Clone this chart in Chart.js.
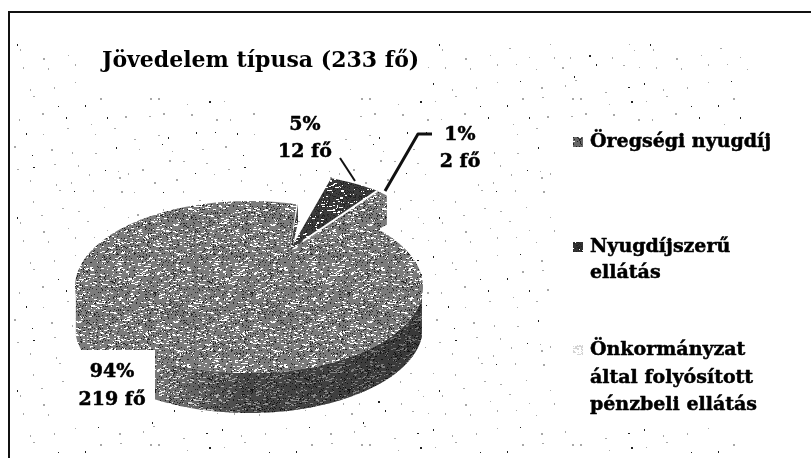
<!DOCTYPE html>
<html lang="hu">
<head>
<meta charset="UTF-8">
<title>Jövedelem típusa</title>
<script src="https://cdn.jsdelivr.net/npm/chart.js"></script>
<style>
  html, body { margin: 0; background: #fff; }
  canvas { display: block; }
</style>
</head>
<body>
<canvas id="pie" width="811" height="458"></canvas>
<script>
  const chartTitle = 'Jövedelem típusa (233 fő)';
  const categories = ['Öregségi nyugdíj', 'Nyugdíjszerű ellátás', 'Önkormányzat által folyósított pénzbeli ellátás'];
  const values = [219, 12, 2];
  const percentLabels = ['94%', '5%', '1%'];
  const countLabels = ['219 fő', '12 fő', '2 fő'];

  const FONT = "'DejaVu Serif', serif";

  // the ellipse of the pie top and the point where the slices meet
  const cx = 249, cy = 287, rx = 174, ry = 86, depth = 40;
  const apex = [290, 250];
  const wedgeMid = -58.4 * Math.PI / 180;
  const squeeze = 0.686;

  // small dithered tiles, the picture is a halftone scan
  function ditherTile(base, whiteRate, blackRate) {
    const c = document.createElement('canvas');
    c.width = c.height = 97;
    const g = c.getContext('2d');
    g.fillStyle = base;
    g.fillRect(0, 0, 97, 97);
    let seed = 12345;
    const next = () => (seed = (seed * 1103515245 + 12345) & 0x7fffffff) / 0x7fffffff;
    for (let y = 0; y < 97; y++) {
      for (let x = 0; x < 97; x++) {
        const r = next();
        if (r < whiteRate) {
          g.fillStyle = '#fff';
          g.fillRect(x, y, 1 + Math.floor(next() * 3), 1);
        } else if (r < whiteRate + blackRate) {
          g.fillStyle = '#222';
          g.fillRect(x, y, 1, 1);
        }
      }
    }
    return c;
  }

  // the faint rows of dots in the background
  function speckleTile() {
    const c = document.createElement('canvas');
    c.width = 211; c.height = 173;
    const g = c.getContext('2d');
    let seed = 777;
    const next = () => (seed = (seed * 1103515245 + 12345) & 0x7fffffff) / 0x7fffffff;
    for (let col = 0; col < 10; col++) {
      const x0 = col * 21 + Math.floor(next() * 10);
      for (let i = 0; i < 11; i++) {
        const x = x0 + i * 5 + Math.floor(next() * 7);
        const y = i * 16 + Math.floor(next() * 13);
        g.fillStyle = next() < 0.2 ? '#222' : '#a8a8a8';
        g.fillRect(x % 211, y % 173, next() < 0.4 ? 2 : 1, next() < 0.5 ? 2 : 1);
      }
    }
    return c;
  }

  function rimPoint(angle, shift) {
    let d = angle - wedgeMid;
    d = Math.atan2(Math.sin(d), Math.cos(d));
    const phi = wedgeMid + 2 * Math.atan(Math.tan(d / 2) / squeeze);
    return [cx + rx * Math.cos(phi) + (shift ? shift[0] : 0), cy + ry * Math.sin(phi) + (shift ? shift[1] : 0)];
  }

  function rimPoints(start, end, shift) {
    const pts = [];
    const n = Math.max(6, Math.round((end - start) * 60));
    for (let i = 0; i <= n; i++) {
      pts.push(rimPoint(start + (end - start) * i / n, shift));
    }
    return pts;
  }

  function fillPoly(ctx, pts, fill) {
    ctx.beginPath();
    pts.forEach((p, i) => i ? ctx.lineTo(p[0], p[1]) : ctx.moveTo(p[0], p[1]));
    ctx.closePath();
    ctx.fillStyle = fill;
    ctx.fill();
  }

  function boldText(ctx, t, x, y) {
    ctx.fillText(t, x, y);
    ctx.strokeText(t, x, y);
  }

  function centerLines(ctx, lines, x, ys, size) {
    ctx.font = 'bold ' + size + 'px ' + FONT;
    ctx.fillStyle = '#000';
    ctx.strokeStyle = '#000';
    ctx.lineWidth = 0.5;
    ctx.textAlign = 'center';
    ctx.textBaseline = 'middle';
    lines.forEach((t, i) => boldText(ctx, t, x, ys[i]));
  }

  const pie3d = {
    id: 'pie3d',
    beforeDraw(chart) {
      const ctx = chart.ctx;
      ctx.save();
      ctx.fillStyle = '#fff';
      ctx.fillRect(0, 0, 811, 458);
      ctx.fillStyle = ctx.createPattern(speckleTile(), 'repeat');
      ctx.fillRect(14, 43, 736, 415);
      // white boxes behind the texts
      ctx.fillStyle = '#fff';
      ctx.fillRect(86, 34, 340, 64);
      ctx.fillRect(262, 98, 76, 72);
      ctx.fillRect(430, 120, 64, 62);
      ctx.fillRect(556, 128, 255, 300);
      // frame
      ctx.fillStyle = '#111';
      ctx.fillRect(8, 11, 803, 2);
      ctx.fillRect(8, 11, 2, 447);
      ctx.restore();
    },
    afterDatasetsDraw(chart) {
      const ctx = chart.ctx;
      const arcs = chart.getDatasetMeta(0).data;
      const mid = ctx.createPattern(ditherTile('#7c7c7c', 0.07, 0.1), 'repeat');
      const wall = ctx.createPattern(ditherTile('#505050', 0.06, 0.16), 'repeat');
      const dark = ctx.createPattern(ditherTile('#3c3c3c', 0.04, 0.22), 'repeat');

      ctx.save();

      // far cut face of the large slice
      fillPoly(ctx, [[298, 204], [298, 222], [291, 254], apex], wall);

      // small dark slice, pulled out at the rim
      const inset = 3 * Math.PI / 180;
      const darkRim = rimPoints(arcs[1].startAngle + inset, arcs[1].endAngle - inset, [22, -28]);
      fillPoly(ctx, [apex].concat(darkRim), dark);

      // smallest slice with its cut face
      const lightRim = rimPoints(arcs[2].startAngle, arcs[2].endAngle, [10, -33]);
      const lightEnd = lightRim[lightRim.length - 1];
      const lightApex = [297, 245];
      fillPoly(ctx, [lightEnd, [lightEnd[0], lightEnd[1] + 29], [300, 268], lightApex], mid);
      fillPoly(ctx, [lightApex].concat(lightRim), mid);
      ctx.beginPath();
      ctx.moveTo(lightApex[0] + 6, lightApex[1] - 4);
      ctx.lineTo(lightRim[0][0], lightRim[0][1]);
      ctx.strokeStyle = '#fff';
      ctx.lineWidth = 2;
      ctx.stroke();

      // large slice: wall first, then the top
      const mainRim = rimPoints(arcs[0].startAngle, arcs[0].endAngle);
      const front = mainRim.filter(p => p[1] >= cy + 8);
      const back = front.slice().reverse().map(p => [p[0], p[1] + depth]);
      const wallPoly = front.concat(back);
      fillPoly(ctx, wallPoly, mid);
      const shade = ctx.createLinearGradient(150, 0, 420, 0);
      shade.addColorStop(0, 'rgba(0,0,0,0)');
      shade.addColorStop(0.35, 'rgba(0,0,0,0.42)');
      shade.addColorStop(1, 'rgba(0,0,0,0.55)');
      fillPoly(ctx, wallPoly, shade);
      fillPoly(ctx, [apex].concat(mainRim), mid);

      // leader lines
      ctx.strokeStyle = '#111';
      ctx.lineJoin = 'round';
      ctx.lineWidth = 2;
      ctx.beginPath();
      ctx.moveTo(340, 158);
      ctx.lineTo(355, 181);
      ctx.stroke();
      ctx.lineWidth = 3;
      ctx.beginPath();
      ctx.moveTo(432, 134);
      ctx.lineTo(418, 134);
      ctx.lineTo(385, 191);
      ctx.stroke();

      // data labels
      ctx.fillStyle = '#fff';
      ctx.fillRect(68, 350, 87, 70);
      centerLines(ctx, [percentLabels[0], countLabels[0]], 112, [372, 400], 19);
      centerLines(ctx, [percentLabels[1], countLabels[1]], 305, [125, 152], 19);
      centerLines(ctx, [percentLabels[2], countLabels[2]], 460, [135, 162], 19);

      // legend, wrapped the same way as the picture
      const legendLines = [[categories[0]], ['Nyugdíjszerű', 'ellátás'], ['Önkormányzat', 'által folyósított', 'pénzbeli ellátás']];
      const legendYs = [[142], [247, 273], [350, 378, 405]];
      const swatches = [ditherTile('#666', 0.05, 0.2), ditherTile('#333', 0.04, 0.25), ditherTile('#d4d4d4', 0.3, 0)];
      ctx.font = 'bold 19px ' + FONT;
      ctx.textAlign = 'left';
      ctx.textBaseline = 'middle';
      ctx.strokeStyle = '#000';
      ctx.lineWidth = 0.5;
      legendLines.forEach((lines, i) => {
        ctx.fillStyle = ctx.createPattern(swatches[i], 'repeat');
        ctx.fillRect(573, legendYs[i][0] - 5, 10, 10);
        ctx.fillStyle = '#000';
        lines.forEach((t, k) => boldText(ctx, t, 590, legendYs[i][k]));
      });

      ctx.restore();
    }
  };

  new Chart(document.getElementById('pie'), {
    type: 'pie',
    data: {
      labels: categories,
      datasets: [{
        data: values,
        backgroundColor: 'rgba(0,0,0,0)',
        borderWidth: 0
      }]
    },
    options: {
      responsive: false,
      animation: false,
      rotation: 42.4,
      layout: { padding: { left: 102, top: 48 } },
      plugins: {
        legend: { display: false },
        tooltip: { enabled: false },
        title: {
          display: true,
          text: chartTitle,
          align: 'start',
          color: '#000',
          padding: 0,
          font: { family: FONT, size: 22, weight: 'bold' }
        }
      }
    },
    plugins: [pie3d]
  });
</script>
</body>
</html>
